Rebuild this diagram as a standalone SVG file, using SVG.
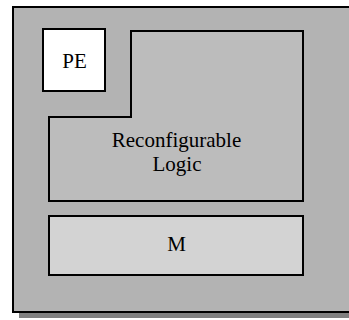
<svg xmlns="http://www.w3.org/2000/svg" width="349" height="320" viewBox="0 0 349 320">
<style>
.b{stroke:#000;stroke-width:2}
</style>
<rect width="349" height="320" fill="#fff"/>
<g id="chip">
<rect x="19" y="13" width="340" height="305" fill="#808080"/>
<rect x="13" y="7" width="346" height="305" fill="#b3b3b3" class="b"/>
</g>
<g id="pe">
<rect x="43" y="29" width="62" height="62" fill="#fff" class="b"/>
<text x="74.5" y="68" font-family="Liberation Serif" font-size="21" text-anchor="middle">PE</text>
</g>
<g id="logic">
<path d="M131 31H303V201H49V117H131Z" fill="#bcbcbc" class="b"/>
<text x="176.5" y="147" font-family="Liberation Serif" font-size="21" text-anchor="middle">Reconfigurable</text>
<text x="177" y="171" font-family="Liberation Serif" font-size="21" text-anchor="middle">Logic</text>
</g>
<g id="mem">
<rect x="49" y="216" width="254" height="59" fill="#d3d3d3" class="b"/>
<text x="176.5" y="251" font-family="Liberation Serif" font-size="21" text-anchor="middle">M</text>
</g>
<g id="connectors"/>
</svg>
